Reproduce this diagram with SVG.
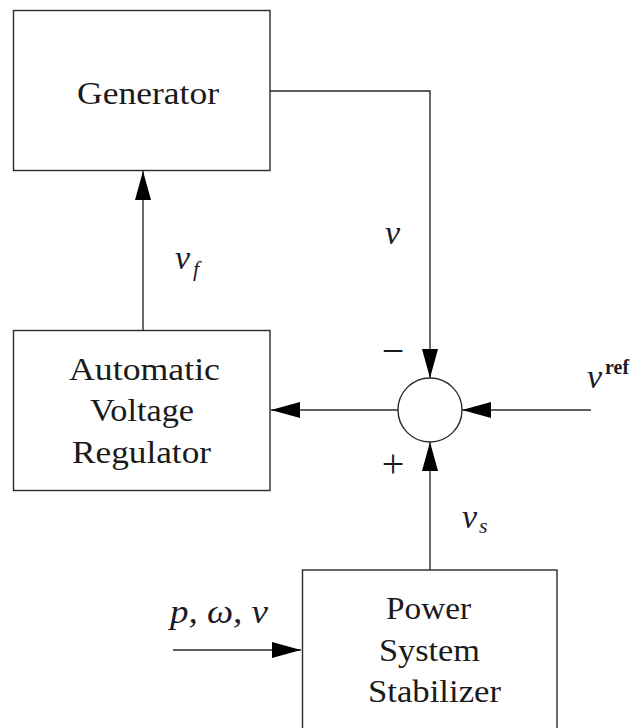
<svg xmlns="http://www.w3.org/2000/svg" width="635" height="728" viewBox="0 0 635 728">
<defs>
<marker id="ah" markerUnits="userSpaceOnUse" markerWidth="30" markerHeight="18" viewBox="0 0 30 18" refX="29" refY="9" orient="auto">
<path d="M0,1 L29,9 L0,17 Z" fill="#000"/>
</marker>
<style>
.box{fill:#fff;stroke:#2a2a2a;stroke-width:1.4}
.ln{fill:none;stroke:#2a2a2a;stroke-width:1.4}
.t{font-family:"Liberation Serif","DejaVu Serif",serif;font-size:32px;fill:#1a1a1a;text-anchor:middle}
.m{font-family:"Liberation Serif","DejaVu Serif",serif;font-style:italic;font-size:34px;fill:#1a1a2a}
.s{font-family:"Liberation Serif","DejaVu Serif",serif;font-style:italic;font-size:22px;fill:#1a1a2a}
.sb{font-family:"Liberation Serif","DejaVu Serif",serif;font-weight:bold;font-size:20px;fill:#1a1a2a}
.op{font-family:"Liberation Serif","DejaVu Serif",serif;font-size:40px;fill:#1a1a1a;text-anchor:middle}
</style>
</defs>
<rect width="635" height="728" fill="#fff"/>
<g id="connectors">
<path class="ln" d="M270,91 H430 V378" marker-end="url(#ah)"/>
<path class="ln" d="M591,410 H462" marker-end="url(#ah)"/>
<path class="ln" d="M430,570 V442" marker-end="url(#ah)"/>
<path class="ln" d="M398,410 H271" marker-end="url(#ah)"/>
<path class="ln" d="M143,330 V171" marker-end="url(#ah)"/>
<path class="ln" d="M173,650 H301" marker-end="url(#ah)"/>
</g>
<g id="generator">
<rect class="box" x="13.5" y="10.5" width="256.5" height="160"/>
<text class="t" x="148" y="104" textLength="142" lengthAdjust="spacingAndGlyphs">Generator</text>
</g>
<g id="avr">
<rect class="box" x="13.5" y="330.5" width="256.5" height="160"/>
<text class="t" x="144.5" y="380" textLength="151" lengthAdjust="spacingAndGlyphs">Automatic</text>
<text class="t" x="142" y="421" textLength="104" lengthAdjust="spacingAndGlyphs">Voltage</text>
<text class="t" x="141.5" y="463" textLength="139" lengthAdjust="spacingAndGlyphs">Regulator</text>
</g>
<g id="sum">
<circle cx="430" cy="410" r="32" fill="#fff" stroke="#2a2a2a" stroke-width="1.4"/>
</g>
<g id="pss">
<rect class="box" x="302.5" y="570" width="254.5" height="170"/>
<text class="t" x="428.5" y="619" textLength="85" lengthAdjust="spacingAndGlyphs">Power</text>
<text class="t" x="429.5" y="661" textLength="101" lengthAdjust="spacingAndGlyphs">System</text>
<text class="t" x="434.5" y="702" textLength="133" lengthAdjust="spacingAndGlyphs">Stabilizer</text>
</g>
<g id="labels">
<text class="m" x="385" y="244">v</text>
<text class="m" x="175" y="269">v</text><text class="s" x="193" y="276">f</text>
<text class="m" x="462" y="528">v</text><text class="s" x="479" y="533">s</text>
<text class="m" x="587" y="388">v</text><text class="sb" x="605" y="374">ref</text>
<text class="op" x="393" y="364">−</text>
<text class="op" x="393" y="477">+</text>
<text class="m" x="170" y="623" textLength="98" lengthAdjust="spacingAndGlyphs">p, ω, v</text>
</g>
</svg>
